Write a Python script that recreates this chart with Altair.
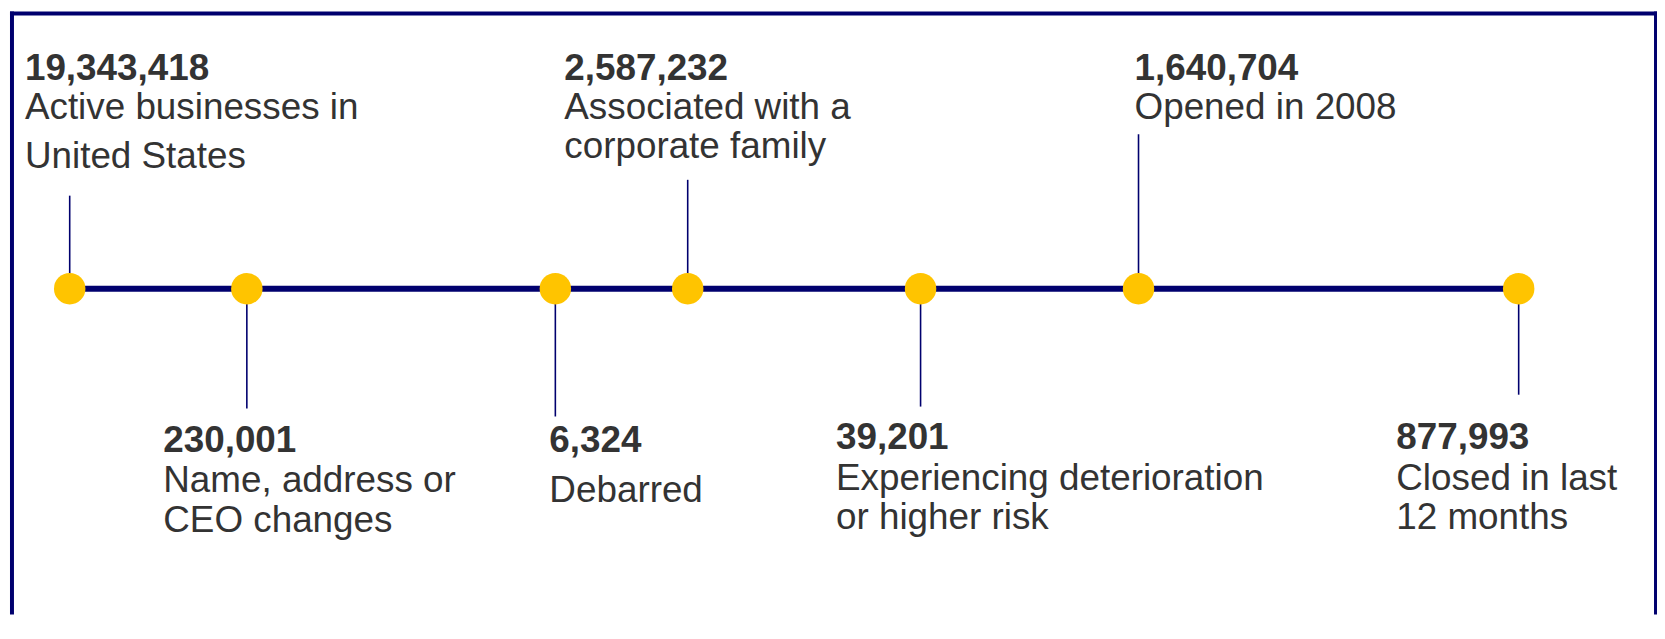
import altair as alt
import pandas as pd

# ---------------- data ----------------
values = [19343418, 230001, 6324, 2587232, 39201, 1640704, 877993]
descriptions = [
    ["Active businesses in", "United States"],
    ["Name, address or", "CEO changes"],
    ["Debarred"],
    ["Associated with a", "corporate family"],
    ["Experiencing deterioration", "or higher risk"],
    ["Opened in 2008"],
    ["Closed in last", "12 months"],
]

# ---------------- layout (page pixels) ----------------
timeline_x = [68, 246, 556, 689, 923, 1142, 1524]
label_x = [23, 162, 550, 565, 838, 1138, 1401]
leader_end = [194, 409, 417, 178, 407, 132, 395]
number_baseline = [77, 453, 453, 77, 450, 77, 450]
line_baselines = [[117, 166], [493, 534], [503], [117, 156], [491, 531], [117], [491, 531]]
TIMELINE_Y = 288

PAGE_OFF = 8
W = 1657
H = 610

NAVY = "#00006e"
GOLD = "#ffc400"
TEXT = "#333333"
FONT = "Liberation Sans"
FS = 37

xs = alt.Scale(domain=[PAGE_OFF, PAGE_OFF + W], range=[0, W])
ys = alt.Scale(domain=[PAGE_OFF, PAGE_OFF + H], reverse=True)
X = lambda f: alt.X(f, type="quantitative", scale=xs, axis=None)
Y = lambda f: alt.Y(f, type="quantitative", scale=ys, axis=None)

# border (kept fully inside the chart area)
BL, BR, BT = 10, 1662, 10
border_df = pd.DataFrame({
    "x": [BL, BR, BL - 2],
    "x2": [BL, BR, BR + 2],
    "y": [BT - 2, BT - 2, BT],
    "y2": [PAGE_OFF + H - 1, PAGE_OFF + H - 1, BT],
})
border = alt.Chart(border_df).mark_rule(color=NAVY, strokeWidth=4).encode(
    x=X("x"), x2="x2", y=Y("y"), y2="y2"
)

# main timeline line
line_df = pd.DataFrame({"x": [min(timeline_x)], "x2": [max(timeline_x)], "y": [TIMELINE_Y]})
main_line = alt.Chart(line_df).mark_rule(color=NAVY, strokeWidth=6).encode(
    x=X("x"), x2="x2", y=Y("y")
)

ev = pd.DataFrame({
    "x": timeline_x,
    "y": [TIMELINE_Y] * len(values),
    "y2": leader_end,
    "value": values,
})
leaders = alt.Chart(ev).mark_rule(color=NAVY, strokeWidth=1.6).encode(
    x=X("x"), y=Y("y"), y2="y2"
)
dots = alt.Chart(ev).mark_circle(color=GOLD, opacity=1, size=1000).encode(
    x=X("x"), y=Y("y")
)

num_df = pd.DataFrame({"x": label_x, "y": number_baseline, "value": values})
numbers = alt.Chart(num_df).mark_text(
    align="left", baseline="alphabetic", font=FONT, fontSize=FS, fontWeight="bold", color=TEXT
).encode(x=X("x"), y=Y("y"), text=alt.Text("value:Q", format=","))

rows = []
for i, lines in enumerate(descriptions):
    for ln, yb in zip(lines, line_baselines[i]):
        rows.append({"x": label_x[i], "y": yb, "label": ln})
desc_df = pd.DataFrame(rows)
descs = alt.Chart(desc_df).mark_text(
    align="left", baseline="alphabetic", font=FONT, fontSize=FS, color=TEXT
).encode(x=X("x"), y=Y("y"), text="label:N")

chart = alt.layer(border, main_line, leaders, dots, numbers, descs).properties(
    width=W, height=H,
    autosize=alt.AutoSizeParams(type="fit", contains="padding"),
    padding=0,
    background="white",
).configure_view(stroke=None)

chart.save("out.html", embed_options={"renderer": "svg", "actions": False})
